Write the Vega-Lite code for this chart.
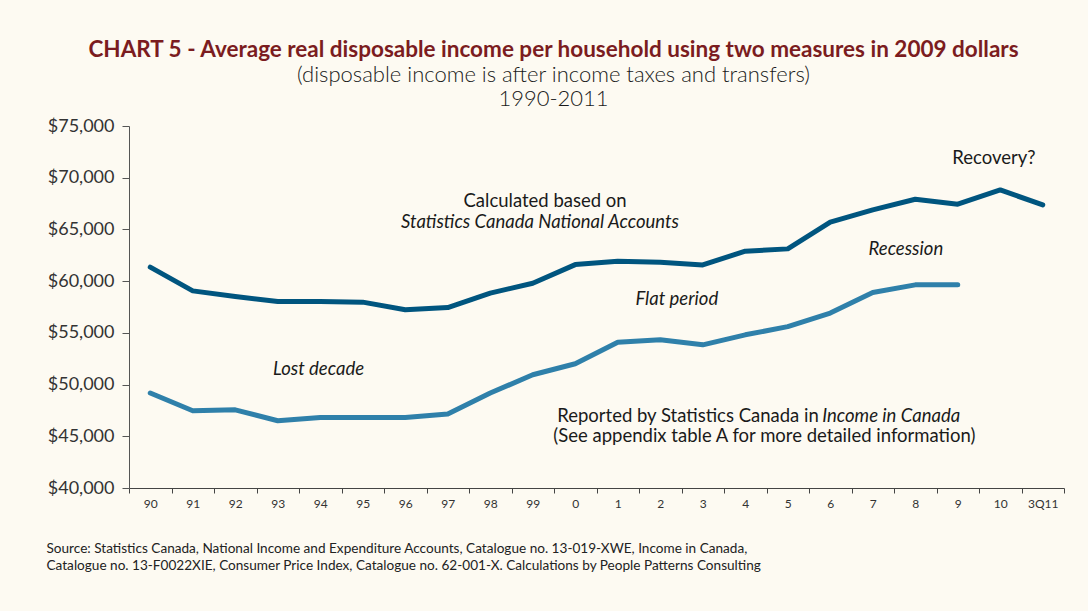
{
  "$schema": "https://vega.github.io/schema/vega-lite/v6.json",
  "width": 935,
  "height": 362,
  "autosize": {"type": "none"},
  "padding": {"left": 129, "top": 126, "right": 24, "bottom": 123},
  "background": "#fdfaf2",
  "config": {"view": {"stroke": null}, "font": "Lato"},
  "title": {
    "text": "CHART 5 - Average real disposable income per household using two measures in 2009 dollars",
    "subtitle": ["(disposable income is after income taxes and transfers)", "1990-2011"],
    "anchor": "middle",
    "frame": "group",
    "dx": -43,
    "offset": 7,
    "font": "Lato",
    "fontSize": 22.5,
    "fontWeight": "bold",
    "color": "#7b1c20",
    "subtitleFont": "Lato",
    "subtitleFontSize": 22,
    "subtitleFontWeight": 300,
    "subtitleColor": "#1a1a1a",
    "subtitleLineHeight": 24.5,
    "subtitlePadding": 3
  },
  "datasets": {
    "series": [
      {"year": "90", "measure": "National Accounts", "value": 61350},
      {"year": "91", "measure": "National Accounts", "value": 59060},
      {"year": "92", "measure": "National Accounts", "value": 58510},
      {"year": "93", "measure": "National Accounts", "value": 58030},
      {"year": "94", "measure": "National Accounts", "value": 58030},
      {"year": "95", "measure": "National Accounts", "value": 57970},
      {"year": "96", "measure": "National Accounts", "value": 57230},
      {"year": "97", "measure": "National Accounts", "value": 57450},
      {"year": "98", "measure": "National Accounts", "value": 58840},
      {"year": "99", "measure": "National Accounts", "value": 59800},
      {"year": "0", "measure": "National Accounts", "value": 61600},
      {"year": "1", "measure": "National Accounts", "value": 61930},
      {"year": "2", "measure": "National Accounts", "value": 61830},
      {"year": "3", "measure": "National Accounts", "value": 61570},
      {"year": "4", "measure": "National Accounts", "value": 62900},
      {"year": "5", "measure": "National Accounts", "value": 63120},
      {"year": "6", "measure": "National Accounts", "value": 65700},
      {"year": "7", "measure": "National Accounts", "value": 66890},
      {"year": "8", "measure": "National Accounts", "value": 67920},
      {"year": "9", "measure": "National Accounts", "value": 67440},
      {"year": "10", "measure": "National Accounts", "value": 68820},
      {"year": "3Q11", "measure": "National Accounts", "value": 67370},
      {"year": "90", "measure": "Income in Canada", "value": 49180},
      {"year": "91", "measure": "Income in Canada", "value": 47470},
      {"year": "92", "measure": "Income in Canada", "value": 47560},
      {"year": "93", "measure": "Income in Canada", "value": 46500},
      {"year": "94", "measure": "Income in Canada", "value": 46820},
      {"year": "95", "measure": "Income in Canada", "value": 46820},
      {"year": "96", "measure": "Income in Canada", "value": 46820},
      {"year": "97", "measure": "Income in Canada", "value": 47150},
      {"year": "98", "measure": "Income in Canada", "value": 49180},
      {"year": "99", "measure": "Income in Canada", "value": 50950},
      {"year": "0", "measure": "Income in Canada", "value": 52010},
      {"year": "1", "measure": "Income in Canada", "value": 54100},
      {"year": "2", "measure": "Income in Canada", "value": 54330},
      {"year": "3", "measure": "Income in Canada", "value": 53840},
      {"year": "4", "measure": "Income in Canada", "value": 54810},
      {"year": "5", "measure": "Income in Canada", "value": 55600},
      {"year": "6", "measure": "Income in Canada", "value": 56910},
      {"year": "7", "measure": "Income in Canada", "value": 58900},
      {"year": "8", "measure": "Income in Canada", "value": 59640},
      {"year": "9", "measure": "Income in Canada", "value": 59640}
    ],
    "notesNormalCenter": [
      {"xi": 9.29, "v": 67755, "label": "Calculated based on"},
      {"xi": 19.85, "v": 71909, "label": "Recovery?"},
      {"xi": 14.45, "v": 45051, "label": "(See appendix table A for more detailed information)"}
    ],
    "notesNormalRight": [
      {"xi": 15.73, "v": 46984, "label": "Reported by Statistics Canada in"}
    ],
    "notesItalicCenter": [
      {"xi": 9.17, "v": 65726, "label": "Statistics Canada National Accounts"},
      {"xi": 17.78, "v": 63117, "label": "Recession"},
      {"xi": 12.39, "v": 58287, "label": "Flat period"},
      {"xi": 3.96, "v": 51524, "label": "Lost decade"}
    ],
    "notesItalicLeft": [
      {"xi": 15.81, "v": 46984, "label": "Income in Canada"}
    ]
  },
  "layer": [
    {
      "data": {"name": "series"},
      "mark": {"type": "line", "strokeWidth": 5, "strokeCap": "round", "strokeJoin": "round"},
      "encoding": {
        "x": {
          "field": "year",
          "type": "ordinal",
          "sort": null,
          "scale": {"type": "band", "paddingInner": 0, "paddingOuter": 0},
          "axis": {
            "title": [
              "Source: Statistics Canada, National Income and Expenditure Accounts, Catalogue no. 13-019-XWE, Income in Canada,",
              "Catalogue no. 13-F0022XIE, Consumer Price Index, Catalogue no. 62-001-X. Calculations by People Patterns Consulting"
            ],
            "titleX": -83,
            "titleY": 64,
            "titleAlign": "left",
            "titleAnchor": "start",
            "titleBaseline": "alphabetic",
            "titleFont": "Lato",
            "titleFontSize": 13.6,
            "titleFontWeight": "normal",
            "titleColor": "#222222",
            "titleLineHeight": 17,
            "labelAngle": 0,
            "labelFont": "Lato",
            "labelFontSize": 12,
            "labelColor": "#333333",
            "labelPadding": 5,
            "tickBand": "extent",
            "tickSize": 5,
            "tickColor": "#444444",
            "domainColor": "#444444",
            "grid": false
          }
        },
        "y": {
          "field": "value",
          "type": "quantitative",
          "scale": {"domain": [40000, 75000]},
          "axis": {
            "title": null,
            "values": [40000, 45000, 50000, 55000, 60000, 65000, 70000, 75000],
            "format": "$,.0f",
            "labelFont": "Lato",
            "labelFontSize": 18,
            "labelColor": "#333333",
            "labelPadding": 8,
            "tickSize": 7,
            "tickColor": "#555555",
            "domainColor": "#555555",
            "grid": false
          }
        },
        "color": {
          "field": "measure",
          "type": "nominal",
          "scale": {"domain": ["National Accounts", "Income in Canada"], "range": ["#00557f", "#2f80aa"]},
          "legend": null
        }
      }
    },
    {
      "data": {"name": "notesNormalCenter"},
      "mark": {"type": "text", "font": "Lato", "fontSize": 18.5, "color": "#1a1a1a", "align": "center", "baseline": "middle"},
      "encoding": {
        "x": {"field": "xi", "type": "quantitative", "scale": {"domain": [-0.5, 21.5]}, "axis": null},
        "y": {"field": "v", "type": "quantitative", "title": null},
        "text": {"field": "label"}
      }
    },
    {
      "data": {"name": "notesNormalRight"},
      "mark": {"type": "text", "font": "Lato", "fontSize": 18.5, "color": "#1a1a1a", "align": "right", "baseline": "middle"},
      "encoding": {
        "x": {"field": "xi", "type": "quantitative", "scale": {"domain": [-0.5, 21.5]}, "axis": null},
        "y": {"field": "v", "type": "quantitative", "title": null},
        "text": {"field": "label"}
      }
    },
    {
      "data": {"name": "notesItalicCenter"},
      "mark": {"type": "text", "font": "Lato", "fontSize": 18.5, "fontStyle": "italic", "color": "#1a1a1a", "align": "center", "baseline": "middle"},
      "encoding": {
        "x": {"field": "xi", "type": "quantitative", "scale": {"domain": [-0.5, 21.5]}, "axis": null},
        "y": {"field": "v", "type": "quantitative", "title": null},
        "text": {"field": "label"}
      }
    },
    {
      "data": {"name": "notesItalicLeft"},
      "mark": {"type": "text", "font": "Lato", "fontSize": 18.5, "fontStyle": "italic", "color": "#1a1a1a", "align": "left", "baseline": "middle"},
      "encoding": {
        "x": {"field": "xi", "type": "quantitative", "scale": {"domain": [-0.5, 21.5]}, "axis": null},
        "y": {"field": "v", "type": "quantitative", "title": null},
        "text": {"field": "label"}
      }
    }
  ],
  "resolve": {"scale": {"x": "independent"}}
}
